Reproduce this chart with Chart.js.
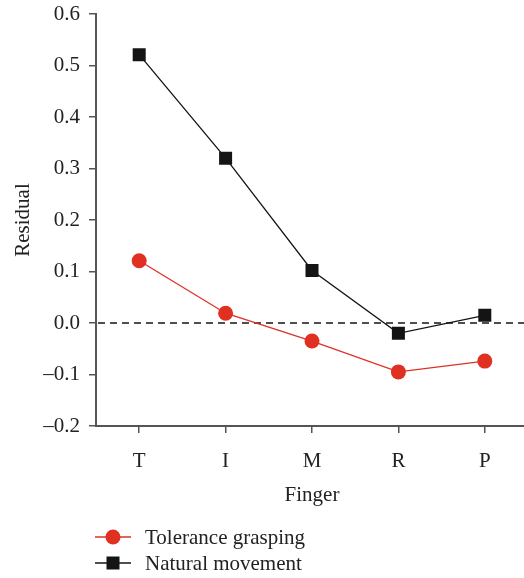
<!DOCTYPE html>
<html>
<head>
<meta charset="utf-8">
<script src="https://cdn.jsdelivr.net/npm/chart.js@4/dist/chart.umd.min.js"></script>
<style>
  html, body { margin: 0; padding: 0; background: #fff; overflow: hidden; }
</style>
</head>
<body>
<canvas id="myChart" width="524" height="578"></canvas>
<script>
const fingers = ['T', 'I', 'M', 'R', 'P'];
const tolerance = [0.121, 0.019, -0.035, -0.095, -0.074];
const natural = [0.521, 0.320, 0.102, -0.020, 0.015];
const seriesNames = ['Tolerance grasping', 'Natural movement'];
const yTicks = [-0.2, -0.1, 0.0, 0.1, 0.2, 0.3, 0.4, 0.5, 0.6];

const red = 'rgb(224, 48, 34)';
const black = 'rgb(20, 20, 20)';
const axisGrey = 'rgb(85, 85, 85)';
const serif = '"Liberation Serif", "DejaVu Serif", serif';
const fontSize = 21;

// the x axis in the original runs a little past the right edge of the figure
const widenX = {
    id: 'widenX',
    afterLayout(chart) {
        const x = chart.scales.x;
        x.right = chart.width + 4;
        x.width = x.right - x.left;
        chart.chartArea.right = x.right;
        chart.chartArea.width = x.width;
        x.configure();
    }
};

// dashed reference line at zero, full width of the plot
const zeroLine = {
    id: 'zeroLine',
    beforeDatasetsDraw(chart) {
        const { ctx, chartArea } = chart;
        const y = chart.scales.y.getPixelForValue(0);
        ctx.save();
        ctx.strokeStyle = black;
        ctx.lineWidth = 1.3;
        ctx.setLineDash([7, 5]);
        ctx.beginPath();
        ctx.moveTo(chartArea.left + 2, y);
        ctx.lineTo(chartArea.right, y);
        ctx.stroke();
        ctx.restore();
    }
};

// legend below the axis: short line with the marker, then the name
const bottomLegend = {
    id: 'bottomLegend',
    afterDraw(chart) {
        const { ctx } = chart;
        const rows = [537, 563];
        ctx.save();
        chart.data.datasets.forEach((ds, i) => {
            const y = rows[i];
            ctx.strokeStyle = ds.borderColor;
            ctx.lineWidth = 1.3;
            ctx.beginPath();
            ctx.moveTo(95, y);
            ctx.lineTo(131, y);
            ctx.stroke();
            ctx.fillStyle = ds.pointBackgroundColor;
            if (ds.pointStyle === 'rect') {
                ctx.fillRect(113 - 6.5, y - 6.5, 13, 13);
            } else {
                ctx.beginPath();
                ctx.arc(113, y, 7.5, 0, Math.PI * 2);
                ctx.fill();
            }
            ctx.fillStyle = '#222';
            ctx.font = fontSize + 'px ' + serif;
            ctx.textBaseline = 'middle';
            ctx.fillText(ds.label, 145, y + 1);
        });
        ctx.restore();
    }
};

new Chart(document.getElementById('myChart'), {
    type: 'line',
    data: {
        labels: fingers,
        datasets: [{
            label: seriesNames[0],
            data: tolerance,
            borderColor: red,
            borderWidth: 1.3,
            pointStyle: 'circle',
            pointRadius: 7.5,
            pointHoverRadius: 7.5,
            pointBorderWidth: 0,
            pointBackgroundColor: red,
            tension: 0
        }, {
            label: seriesNames[1],
            data: natural,
            borderColor: black,
            borderWidth: 1.3,
            pointStyle: 'rect',
            pointRadius: 9.2,
            pointHoverRadius: 9.2,
            pointBorderWidth: 0,
            pointBackgroundColor: black,
            tension: 0
        }]
    },
    options: {
        responsive: false,
        animation: false,
        layout: {
            autoPadding: false,
            padding: { top: 14, right: 0, bottom: 70, left: 0 }
        },
        plugins: {
            legend: { display: false },
            tooltip: { enabled: false }
        },
        scales: {
            x: {
                offset: true,
                afterFit(scale) {
                    scale.height = 82;
                    scale.paddingLeft = 0;
                    scale.paddingRight = 0;
                },
                grid: {
                    drawOnChartArea: false,
                    drawTicks: true,
                    tickLength: 7,
                    color: axisGrey,
                    lineWidth: 1.5,
                    offset: false
                },
                border: { display: true, color: axisGrey, width: 2 },
                ticks: {
                    color: '#222',
                    padding: 16,
                    font: { family: serif, size: fontSize }
                },
                title: {
                    display: true,
                    text: 'Finger',
                    color: '#222',
                    padding: { top: 0, bottom: 0 },
                    font: { family: serif, size: fontSize }
                }
            },
            y: {
                min: yTicks[0],
                max: yTicks[yTicks.length - 1],
                afterFit(scale) {
                    scale.width = 96;
                    scale.paddingTop = 0;
                    scale.paddingBottom = 0;
                },
                afterBuildTicks(scale) {
                    scale.ticks = yTicks.map(v => ({ value: v }));
                },
                grid: {
                    drawOnChartArea: false,
                    drawTicks: true,
                    tickLength: 7,
                    color: axisGrey,
                    lineWidth: 1.5
                },
                border: { display: true, color: axisGrey, width: 2 },
                ticks: {
                    color: '#222',
                    padding: 9,
                    font: { family: serif, size: fontSize },
                    callback(v) {
                        const s = Math.abs(v).toFixed(1);
                        return v < -1e-9 ? '\u2013' + s : s;
                    }
                },
                title: {
                    display: true,
                    text: 'Residual',
                    color: '#222',
                    padding: { top: 11, bottom: 0 },
                    font: { family: serif, size: fontSize }
                }
            }
        }
    },
    plugins: [widenX, zeroLine, bottomLegend]
});
</script>
</body>
</html>
